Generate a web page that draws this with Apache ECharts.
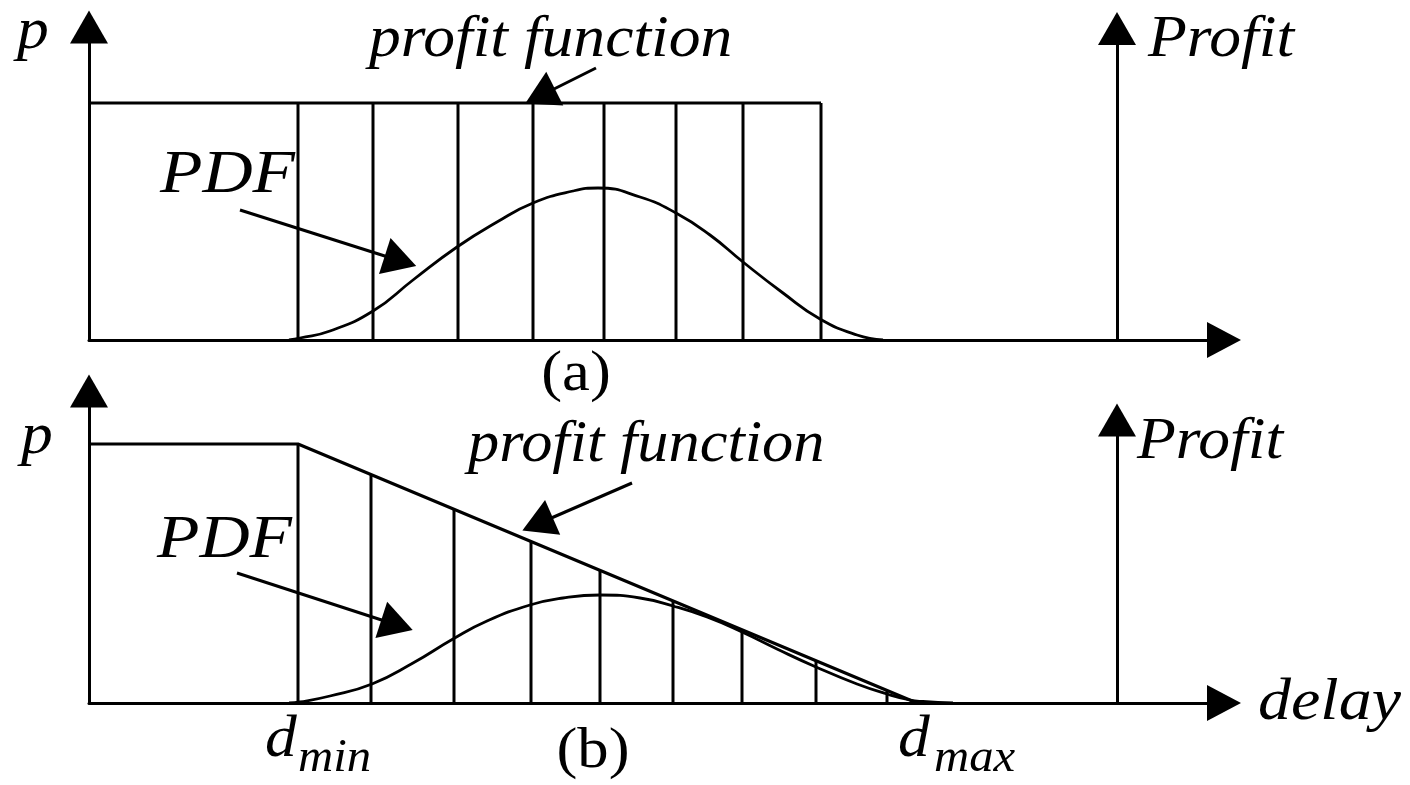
<!DOCTYPE html>
<html>
<head>
<meta charset="utf-8">
<script src="https://cdn.jsdelivr.net/npm/echarts@6/dist/echarts.min.js"></script>
<style>
  html, body { margin: 0; padding: 0; background: #fff; }
  #chart { width: 1410px; height: 785px; }
</style>
</head>
<body>
<div id="chart"></div>
<script>
// ---- Panel (a): step profit function (p until the deadline), delay PDF ----
const pdfA = [[2.00, 0], [2.11, 0.02], [2.41, 0.09], [2.84, 0.29], [3.24, 0.60], [3.68, 0.93],
  [4.08, 1.18], [4.44, 1.37], [4.84, 1.49], [5.09, 1.52], [5.51, 1.43], [5.87, 1.27],
  [6.21, 1.05], [6.54, 0.78], [6.94, 0.47], [7.31, 0.21], [7.68, 0.05], [7.94, 0]];
const profitA = [[0, 2.37], [7.32, 2.37]];
const binsA = [[2.09, 2.37], [2.84, 2.37], [3.69, 2.37], [4.44, 2.37], [5.15, 2.37],
  [5.87, 2.37], [6.54, 2.37], [7.32, 2.37]];

// ---- Panel (b): profit falls linearly from p at d_min to 0 at d_max ----
const dMin = 2.09;
const dMax = 8.28;
const pdfB = [[2.00, 0], [2.11, 0.01], [2.41, 0.07], [2.83, 0.19], [3.24, 0.40], [3.64, 0.64],
  [3.98, 0.82], [4.41, 0.98], [4.74, 1.05], [5.11, 1.08], [5.51, 1.05], [5.84, 0.97],
  [6.18, 0.86], [6.53, 0.71], [6.88, 0.54], [7.27, 0.36], [7.68, 0.19], [7.98, 0.09],
  [8.21, 0.03], [8.34, 0.015], [8.64, 0]];
const profitB = [[0, 2.59], [dMin, 2.59], [dMax, 0]];
const binsB = [[2.09, 2.59], [2.82, 2.28], [3.65, 1.93], [4.42, 1.61], [5.11, 1.33],
  [5.84, 1.01], [6.53, 0.73], [7.27, 0.42], [7.98, 0.13]];

// Position of the separate "Profit" axis on the delay scale, and its length in each panel
const profitAxisX = 10.28;
const profitAxisTopA = 3.115;
const profitAxisTopB = 2.83;

// Pointer arrows (start -> end) in data coordinates
const pdfPointerA = [[1.51, 1.30], [3.115, 0.79]];
const profitPointerA = [[5.07, 2.72], [4.51, 2.44]];
const pdfPointerB = [[1.48, 1.30], [3.08, 0.78]];
const profitPointerB = [[5.43, 2.20], [4.485, 1.79]];

const SERIF = '"Liberation Serif", "Times New Roman", serif';
const INK = '#000';
const LW = 3;

function axisPair(gridIndex, yMax) {
  const x = {
    type: 'value', gridIndex: gridIndex, min: 0, max: 11.35,
    axisLine: { show: true, onZero: false, symbol: ['none', 'triangle'], symbolSize: [36, 34],
      lineStyle: { color: INK, width: LW } },
    axisTick: { show: false }, axisLabel: { show: false }, splitLine: { show: false }
  };
  const y = {
    type: 'value', gridIndex: gridIndex, min: 0, max: yMax,
    axisLine: { show: true, onZero: false, symbol: ['none', 'triangle'], symbolSize: [38, 33],
      lineStyle: { color: INK, width: LW } },
    axisTick: { show: false }, axisLabel: { show: false }, splitLine: { show: false }
  };
  return [x, y];
}

function pointerLines(axisTop, pdfPtr, profitPtr) {
  return {
    silent: true,
    animation: false,
    symbol: ['none', 'triangle'],
    symbolSize: [38, 33],
    label: { show: false },
    emphasis: { disabled: true },
    lineStyle: { color: INK, width: LW, type: 'solid' },
    itemStyle: { color: INK },
    data: [
      [{ coord: [profitAxisX, 0] }, { coord: [profitAxisX, axisTop] }],
      [{ coord: pdfPtr[0] }, { coord: pdfPtr[1] }],
      [{ coord: profitPtr[0] }, { coord: profitPtr[1] }]
    ]
  };
}

function panelSeries(idx, pdf, profit, bins, marks) {
  return [
    {
      type: 'bar', xAxisIndex: idx, yAxisIndex: idx, data: bins, barWidth: 3,
      itemStyle: { color: INK }, silent: true, clip: false
    },
    {
      type: 'line', xAxisIndex: idx, yAxisIndex: idx, data: profit, showSymbol: false,
      symbol: 'none', lineStyle: { color: INK, width: LW }, silent: true, clip: false
    },
    {
      type: 'line', xAxisIndex: idx, yAxisIndex: idx, data: pdf, showSymbol: false,
      symbol: 'none', smooth: 0.5,
      lineStyle: { color: INK, width: 2.8 }, silent: true, clip: false,
      markLine: marks
    }
  ];
}

// Text annotation; the serif face is stretched slightly wider, as in the original figure
function txt(text, x, y, size, italic, align, stretch) {
  return {
    type: 'text', x: x, y: y, silent: true, scaleX: stretch || 1.06,
    style: {
      text: text, fill: INK,
      font: (italic ? 'italic ' : '') + size + 'px ' + SERIF,
      textAlign: align || 'left', align: align || 'left',
      textVerticalAlign: 'middle', verticalAlign: 'middle'
    }
  };
}

const [xA, yA] = axisPair(0, 3.13);
const [xB, yB] = axisPair(1, 3.12);

const option = {
  animation: false,
  backgroundColor: '#fff',
  grid: [
    { left: 89, right: 186, top: 27, bottom: 445 },
    { left: 89, right: 186, top: 391, bottom: 82 }
  ],
  xAxis: [xA, xB],
  yAxis: [yA, yB],
  series: [
    ...panelSeries(0, pdfA, profitA, binsA, pointerLines(profitAxisTopA, pdfPointerA, profitPointerA)),
    ...panelSeries(1, pdfB, profitB, binsB, pointerLines(profitAxisTopB, pdfPointerB, profitPointerB))
  ],
  graphic: [
    // panel (a)
    txt('p', 17, 32, 60, true),
    txt('profit function', 369, 40, 60, true),
    txt('PDF', 160, 176, 62, true, 'left', 1.12),
    txt('Profit', 1148, 40, 60, true),
    txt('(a)', 576, 375, 58, false, 'center', 1.08),
    // panel (b)
    txt('p', 21, 437, 60, true),
    txt('profit function', 468, 445, 60, true, 'left', 1.04),
    txt('PDF', 157, 541, 62, true, 'left', 1.12),
    txt('Profit', 1137, 442, 60, true),
    txt('delay', 1258, 703, 60, true, 'left', 1.1),
    txt('d', 265, 740, 60, true),
    txt('min', 298, 759, 46, true),
    txt('(b)', 593, 752, 58, false, 'center', 1.08),
    txt('d', 898, 740, 60, true),
    txt('max', 934, 759, 46, true)
  ]
};

const chart = echarts.init(document.getElementById('chart'), null, { renderer: 'canvas' });
chart.setOption(option);
</script>
</body>
</html>
